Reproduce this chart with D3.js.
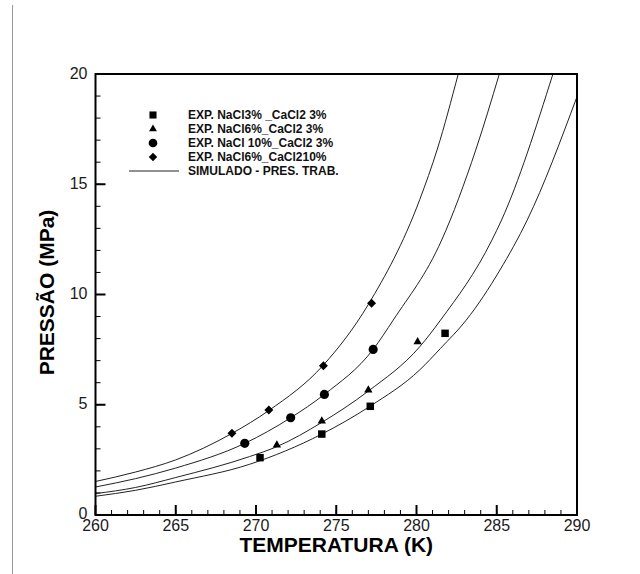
<!DOCTYPE html>
<html>
<head>
<meta charset="utf-8">
<script src="https://d3js.org/d3.v7.min.js"></script>
<style>
  body { margin: 0; background: #fff; }
  svg { display: block; font-family: Arial, "Liberation Sans", sans-serif; }
</style>
</head>
<body>
<div id="chart"></div>
<script>
// experimental points (T in K, P in MPa)
var tempNaCl3 = [270.25, 274.1, 277.12, 281.78];
var presNaCl3 = [2.60, 3.67, 4.93, 8.24];
var tempNaCl6 = [271.3, 274.1, 277.0, 280.07];
var presNaCl6 = [3.17, 4.26, 5.67, 7.85];
var tempNaCl10 = [269.3, 272.16, 274.26, 277.3];
var presNaCl10 = [3.25, 4.41, 5.47, 7.51];
var tempNaCl6Ca10 = [268.5, 270.8, 274.2, 277.2];
var presNaCl6Ca10 = [3.71, 4.76, 6.77, 9.6];

// simulated curves
var simT1 = [260, 262.5, 265, 268.5, 270.8, 274.2, 277.0, 280.2, 281.3, 282.6];
var simP1 = [1.52, 1.95, 2.5, 3.7, 4.74, 6.8, 9.55, 14.3, 16.6, 20];
var simT2 = [260, 262.5, 265, 269.3, 272.16, 274.26, 277.3, 278.55, 281.57, 283.69, 285.16];
var simP2 = [1.27, 1.65, 2.13, 3.25, 4.41, 5.47, 7.51, 8.84, 12.47, 16.55, 20];
var simT3 = [260, 262.5, 265, 269.6, 271.3, 274.1, 277.0, 280.2, 281.5, 284.7, 285.3, 288.5];
var simP3 = [0.97, 1.25, 1.70, 2.65, 3.1, 4.2, 5.62, 7.63, 8.84, 12.47, 13.38, 20];
var simT4 = [260, 262.5, 265, 269.6, 274.1, 277.1, 280.2, 281.5, 283.1, 285.2, 286.9, 290];
var simP4 = [0.85, 1.12, 1.5, 2.3, 3.67, 4.93, 6.58, 7.56, 8.84, 11.11, 13.38, 18.97];

var xTicks = [260, 265, 270, 275, 280, 285, 290];
var yTicks = [0, 5, 10, 15, 20];
var legendLabels = ["EXP. NaCl3% _CaCl2 3%", "EXP. NaCl6%_CaCl2 3%", "EXP. NaCl 10%_CaCl2 3%", "EXP. NaCl6%_CaCl210%", "SIMULADO - PRES. TRAB."];

var width = 640, height = 574;
var plotLeft = 95.5, plotRight = 577, plotTop = 74, plotBottom = 515;

var svg = d3.select("#chart").append("svg")
    .attr("width", width).attr("height", height);

// thin gray rule at the far left of the page
svg.append("line")
    .attr("x1", 12.5).attr("x2", 12.5).attr("y1", 5).attr("y2", height)
    .attr("stroke", "#999").attr("stroke-width", 1);

var x = d3.scaleLinear().domain([260, 290]).range([plotLeft, plotRight]);
var y = d3.scaleLinear().domain([0, 20]).range([plotBottom, plotTop]);

svg.append("defs").append("clipPath").attr("id", "clip")
  .append("rect")
    .attr("x", plotLeft).attr("y", plotTop)
    .attr("width", plotRight - plotLeft).attr("height", plotBottom - plotTop);

// minor ticks (inside)
var g = svg.append("g");
g.selectAll(".xminor").data(d3.range(261, 290)).enter().append("line")
    .attr("x1", function(d) { return x(d); }).attr("x2", function(d) { return x(d); })
    .attr("y1", plotBottom).attr("y2", plotBottom - 5)
    .attr("stroke", "#000").attr("stroke-width", 1);
g.selectAll(".yminor").data(d3.range(1, 20)).enter().append("line")
    .attr("y1", function(d) { return y(d); }).attr("y2", function(d) { return y(d); })
    .attr("x1", plotLeft).attr("x2", plotLeft + 5)
    .attr("stroke", "#000").attr("stroke-width", 1);

// major ticks
g.selectAll(".xmajor").data(xTicks).enter().append("line")
    .attr("x1", function(d) { return x(d); }).attr("x2", function(d) { return x(d); })
    .attr("y1", plotBottom).attr("y2", plotBottom - 10)
    .attr("stroke", "#000").attr("stroke-width", 2);
g.selectAll(".ymajor").data(yTicks).enter().append("line")
    .attr("y1", function(d) { return y(d); }).attr("y2", function(d) { return y(d); })
    .attr("x1", plotLeft).attr("x2", plotLeft + 10)
    .attr("stroke", "#000").attr("stroke-width", 2);

// tick labels
g.selectAll(".xlab").data(xTicks).enter().append("text")
    .attr("x", function(d) { return x(d); })
    .attr("y", plotBottom + 16)
    .attr("text-anchor", "middle")
    .attr("font-size", 16)
    .attr("fill", "#1a1a1a")
    .text(function(d) { return d; });
g.selectAll(".ylab").data(yTicks).enter().append("text")
    .attr("x", plotLeft - 8)
    .attr("y", function(d) { return y(d) + (d === 0 ? -2 : -1); })
    .attr("dy", "0.35em")
    .attr("text-anchor", "end")
    .attr("font-size", 16)
    .attr("fill", "#1a1a1a")
    .text(function(d) { return d; });

// axis titles
svg.append("text")
    .attr("x", (plotLeft + plotRight) / 2).attr("y", 552)
    .attr("text-anchor", "middle")
    .attr("font-size", 21).attr("font-weight", "bold")
    .text("TEMPERATURA (K)");
svg.append("text")
    .attr("transform", "translate(54," + ((plotTop + plotBottom) / 2 - 2) + ") rotate(-90)")
    .attr("text-anchor", "middle")
    .attr("font-size", 21).attr("font-weight", "bold")
    .text("PRESSÃO (MPa)");

// simulated curves
var line = d3.line()
    .curve(d3.curveMonotoneX)
    .x(function(d) { return x(d[0]); })
    .y(function(d) { return y(d[1]); });

var sims = [d3.zip(simT1, simP1), d3.zip(simT2, simP2), d3.zip(simT3, simP3), d3.zip(simT4, simP4)];
svg.append("g").attr("clip-path", "url(#clip)")
  .selectAll("path").data(sims).enter().append("path")
    .attr("d", line)
    .attr("fill", "none")
    .attr("stroke", "#222")
    .attr("stroke-width", 1);

// markers
var series = [
  {t: tempNaCl3, p: presNaCl3, type: d3.symbolSquare, size: 56, rot: 0},
  {t: tempNaCl6, p: presNaCl6, type: d3.symbolTriangle, size: 30, rot: 0},
  {t: tempNaCl10, p: presNaCl10, type: d3.symbolCircle, size: 66, rot: 0},
  {t: tempNaCl6Ca10, p: presNaCl6Ca10, type: d3.symbolSquare, size: 40, rot: 45}
];

series.forEach(function(s) {
  svg.append("g").selectAll("path").data(d3.zip(s.t, s.p)).enter().append("path")
      .attr("d", d3.symbol().type(s.type).size(s.size))
      .attr("transform", function(d) {
        return "translate(" + x(d[0]) + "," + y(d[1]) + ") rotate(" + s.rot + ")";
      })
      .attr("fill", "#000");
});

// frame
svg.append("rect")
    .attr("x", plotLeft).attr("y", plotTop)
    .attr("width", plotRight - plotLeft).attr("height", plotBottom - plotTop)
    .attr("fill", "none").attr("stroke", "#000").attr("stroke-width", 2);

// legend
var legendY = [115, 129, 143, 157, 171];
var lg = svg.append("g");
series.forEach(function(s, i) {
  lg.append("path")
      .attr("d", d3.symbol().type(s.type).size(s.size * 0.9))
      .attr("transform", "translate(153," + legendY[i] + ") rotate(" + s.rot + ")")
      .attr("fill", "#000");
});
lg.append("line")
    .attr("x1", 129).attr("x2", 179)
    .attr("y1", legendY[4]).attr("y2", legendY[4])
    .attr("stroke", "#222").attr("stroke-width", 1);
lg.selectAll("text").data(legendLabels).enter().append("text")
    .attr("x", 188)
    .attr("y", function(d, i) { return legendY[i] + 4; })
    .attr("font-size", 12)
    .attr("font-weight", "bold")
    .attr("fill", "#111")
    .text(function(d) { return d; });
</script>
</body>
</html>
